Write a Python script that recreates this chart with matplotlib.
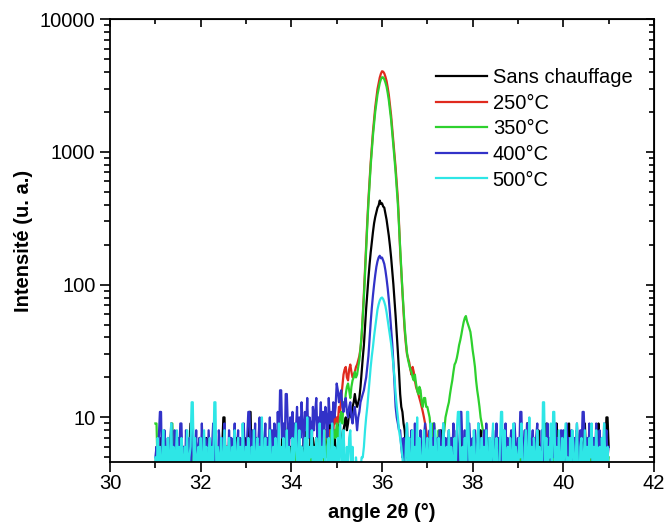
import numpy as np
import matplotlib
matplotlib.use('Agg')
import matplotlib.pyplot as plt
from matplotlib.ticker import MultipleLocator, LogLocator, FuncFormatter, NullFormatter

plt.rcParams['font.family'] = ['Liberation Sans', 'DejaVu Sans']

# ------------------------------------------------------------------
# Data, one point every 0.025 deg from 31.0 to 41.0
# (each line of 20 values = half a degree)
x_start = 31.0
x_step = 0.025

labels = ['Sans chauffage', '250°C', '350°C', '400°C', '500°C']
colors = ['#000000', '#e02a1e', '#2ed12e', '#3232c8', '#2ee6e6']

y_ref = [4, 6, 6, 3, 5, 7, 4, 4, 5, 3, 6, 6, 4, 5, 8, 4, 3, 6, 5, 5,
         4, 7, 3, 5, 6, 4, 2, 5, 7, 4, 6, 9, 9, 4, 5, 3, 6, 4, 5, 7,
         3, 5, 6, 4, 4, 7, 5, 3, 6, 4, 5, 3, 7, 4, 6, 5, 3, 5, 4, 6,
         10, 10, 4, 6, 3, 5, 7, 4, 5, 6, 3, 4, 7, 5, 3, 6, 4, 4, 5, 7,
         3, 6, 5, 11, 11, 4, 5, 3, 6, 7, 4, 5, 3, 6, 4, 5, 7, 3, 5, 6,
         4, 6, 3, 7, 5, 4, 8, 5, 3, 6, 4, 5, 7, 4, 3, 6, 5, 8, 4, 6,
         5, 3, 7, 4, 6, 5, 8, 4, 3, 6, 5, 7, 4, 9, 5, 6, 4, 8, 5, 7,
         6, 4, 7, 5, 8, 6, 4, 9, 5, 7, 6, 8, 5, 7, 9, 6, 8, 5, 7, 6,
         6, 5, 9, 8, 7, 6, 8, 9, 10, 8, 9, 11, 11, 10, 12, 13, 15, 13, 12, 13,
         14, 17, 22, 28, 35, 48, 66, 86, 112, 142, 175, 210, 249, 290, 323, 350, 380, 395, 430, 405,
         410, 388, 380, 342, 309, 270, 233, 196, 161, 128, 101, 77, 58, 43, 31, 22, 15, 12, 11, 9,
         8, 6, 5, 7, 4, 6, 3, 5, 6, 4, 5, 7, 4, 3, 6, 5, 4, 6, 5, 3,
         5, 4, 6, 3, 5, 7, 4, 6, 5, 3, 4, 6, 8, 5, 3, 6, 4, 5, 7, 4,
         3, 6, 5, 4, 7, 5, 3, 6, 4, 5, 8, 4, 6, 3, 5, 4, 7, 5, 3, 6,
         4, 5, 7, 3, 6, 4, 5, 8, 4, 6, 3, 5, 4, 7, 5, 3, 6, 4, 5, 6,
         3, 5, 7, 4, 6, 3, 5, 4, 8, 5, 3, 6, 4, 5, 7, 3, 6, 5, 4, 6,
         5, 3, 6, 8, 4, 5, 7, 3, 9, 9, 4, 6, 5, 3, 7, 4, 6, 5, 8, 4,
         6, 3, 5, 7, 4, 9, 5, 3, 6, 4, 8, 5, 3, 6, 9, 4, 5, 7, 3, 6,
         4, 6, 8, 3, 5, 9, 4, 6, 3, 7, 5, 4, 8, 6, 3, 5, 7, 4, 6, 9,
         5, 3, 6, 4, 8, 5, 3, 7, 4, 6, 5, 9, 3, 6, 4, 7, 5, 3, 10, 10,
         6]

y_250 = [3, 4, 5, 3, 4, 6, 3, 5, 4, 3, 5, 4, 6, 3, 4, 5, 3, 4, 6, 4,
         5, 3, 4, 5, 3, 6, 4, 3, 5, 4, 3, 5, 6, 4, 3, 4, 5, 3, 4, 5,
         4, 3, 5, 4, 6, 3, 4, 5, 3, 4, 6, 4, 3, 5, 4, 3, 5, 6, 4, 3,
         5, 4, 3, 6, 4, 5, 3, 4, 5, 3, 6, 4, 3, 5, 4, 6, 3, 4, 5, 3,
         4, 5, 3, 4, 6, 3, 5, 4, 3, 5, 4, 6, 3, 4, 5, 3, 4, 6, 5, 3,
         4, 3, 5, 6, 4, 3, 5, 4, 6, 3, 4, 5, 3, 4, 6, 5, 3, 4, 5, 4,
         3, 5, 4, 6, 3, 4, 5, 3, 6, 4, 5, 3, 4, 6, 5, 4, 3, 5, 6, 4,
         5, 6, 4, 7, 5, 6, 8, 5, 7, 6, 8, 7, 9, 6, 8, 7, 9, 8, 10, 9,
         10, 9, 12, 11, 14, 17, 21, 23, 24, 20, 19, 23, 25, 22, 20, 21, 22, 24, 25, 27,
         29, 33, 40, 58, 86, 132, 205, 300, 437, 605, 833, 1090, 1420, 1760, 2170, 2540, 2970, 3300, 3630, 3880,
         4050, 4020, 3900, 3680, 3420, 3060, 2690, 2270, 1890, 1500, 1190, 950, 760, 580, 440, 290, 180, 125, 85, 62,
         45, 36, 30, 28, 26, 23, 21, 24, 22, 19, 17, 16, 15, 14, 13, 12, 11, 10, 9, 8,
         7, 6, 5, 7, 4, 6, 5, 3, 4, 5, 3, 6, 4, 3, 5, 4, 3, 5, 4, 3,
         4, 5, 3, 4, 6, 3, 5, 4, 3, 5, 4, 6, 3, 4, 5, 3, 4, 5, 3, 4,
         5, 3, 4, 6, 3, 4, 5, 3, 4, 5, 6, 3, 4, 5, 3, 4, 6, 4, 3, 5,
         4, 3, 5, 4, 6, 3, 4, 5, 3, 4, 5, 3, 6, 4, 3, 5, 4, 3, 5, 4,
         3, 5, 4, 6, 3, 4, 5, 3, 4, 6, 5, 3, 4, 5, 3, 4, 6, 3, 5, 4,
         5, 3, 4, 5, 3, 6, 4, 3, 5, 4, 3, 5, 4, 6, 3, 4, 5, 3, 4, 5,
         3, 4, 6, 5, 3, 4, 5, 3, 4, 6, 3, 5, 4, 3, 5, 4, 6, 3, 4, 5,
         4, 3, 5, 4, 3, 6, 4, 5, 3, 4, 5, 3, 4, 6, 3, 5, 4, 3, 5, 4,
         4]

y_350 = [9, 9, 4, 6, 3, 5, 4, 3, 6, 5, 4, 3, 5, 4, 9, 9, 5, 3, 4, 6,
         4, 3, 5, 4, 6, 3, 4, 5, 3, 4, 6, 4, 3, 5, 4, 3, 5, 6, 4, 3,
         5, 4, 3, 6, 4, 5, 3, 4, 5, 3, 6, 4, 3, 5, 4, 6, 3, 4, 5, 3,
         4, 5, 3, 4, 6, 3, 5, 4, 3, 5, 4, 6, 3, 4, 5, 3, 4, 6, 5, 3,
         4, 3, 5, 6, 4, 3, 5, 4, 6, 3, 4, 5, 3, 4, 6, 5, 3, 4, 5, 4,
         3, 5, 4, 6, 3, 4, 5, 3, 6, 4, 5, 3, 4, 6, 9, 8, 3, 5, 6, 4,
         5, 3, 4, 6, 3, 5, 4, 3, 5, 6, 4, 3, 5, 4, 6, 3, 4, 5, 3, 4,
         4, 6, 5, 3, 5, 4, 6, 5, 7, 4, 6, 5, 7, 6, 5, 8, 6, 7, 8, 7,
         9, 7, 8, 10, 11, 9, 13, 12, 15, 17, 18, 16, 14, 17, 19, 20, 22, 20, 21, 24,
         27, 33, 42, 57, 80, 122, 190, 280, 410, 570, 790, 1030, 1330, 1640, 2000, 2330, 2700, 3000, 3300, 3520,
         3650, 3640, 3520, 3330, 3100, 2780, 2450, 2080, 1750, 1400, 1120, 890, 700, 530, 400, 280, 190, 130, 90, 65,
         48, 38, 31, 27, 25, 23, 22, 20, 19, 21, 18, 16, 15, 17, 16, 13, 12, 14, 14, 12,
         12, 11, 10, 8, 7, 9, 9, 7, 6, 5, 8, 6, 5, 6, 7, 8, 10, 11, 12, 13,
         15, 17, 19, 22, 25, 26, 28, 31, 35, 38, 42, 47, 52, 56, 58, 53, 50, 47, 44, 38,
         32, 28, 24, 19, 16, 14, 12, 10, 9, 8, 7, 5, 4, 6, 3, 5, 4, 3, 5, 4,
         3, 5, 4, 6, 3, 4, 5, 3, 4, 6, 4, 3, 5, 4, 3, 6, 4, 5, 3, 4,
         5, 3, 4, 6, 4, 3, 5, 4, 6, 3, 4, 5, 3, 4, 6, 5, 3, 4, 5, 3,
         4, 6, 3, 5, 4, 3, 5, 4, 6, 3, 4, 5, 3, 4, 6, 3, 5, 4, 3, 5,
         4, 3, 6, 4, 5, 3, 4, 5, 3, 6, 4, 3, 5, 4, 6, 3, 4, 5, 3, 4,
         5, 3, 4, 6, 3, 4, 5, 3, 4, 6, 5, 3, 4, 5, 3, 4, 6, 3, 5, 4,
         5]

y_400 = [5, 6, 4, 7, 11, 11, 3, 6, 8, 5, 4, 7, 3, 6, 9, 5, 4, 8, 6, 3,
         7, 5, 9, 9, 4, 6, 3, 8, 5, 4, 7, 3, 6, 9, 5, 4, 8, 3, 6, 7,
         4, 9, 5, 3, 7, 6, 4, 8, 5, 3, 6, 9, 4, 7, 5, 3, 8, 6, 4, 7,
         5, 9, 3, 6, 4, 8, 5, 7, 3, 6, 9, 4, 5, 8, 3, 7, 6, 4, 9, 5,
         3, 7, 11, 11, 6, 4, 8, 5, 9, 3, 6, 7, 10, 4, 8, 5, 6, 9, 4, 7,
         6, 10, 5, 8, 4, 9, 7, 5, 11, 6, 16, 16, 7, 9, 5, 15, 15, 8, 6, 10,
         7, 11, 5, 9, 8, 12, 6, 10, 7, 13, 9, 6, 11, 8, 14, 7, 10, 9, 6, 12,
         8, 11, 14, 7, 10, 9, 13, 6, 11, 8, 12, 10, 7, 14, 9, 11, 8, 13, 10, 12,
         18, 16, 13, 15, 16, 12, 11, 13, 14, 11, 10, 12, 13, 10, 9, 11, 12, 10, 8, 10,
         11, 13, 14, 15, 16, 18, 20, 24, 29, 39, 52, 67, 83, 100, 118, 136, 150, 160, 165, 158,
         160, 152, 143, 128, 111, 94, 77, 61, 47, 36, 26, 18, 12, 10, 9, 8, 8, 6, 5, 7,
         4, 6, 9, 5, 7, 3, 8, 6, 4, 9, 5, 7, 3, 6, 8, 5, 4, 7, 9, 5,
         6, 4, 8, 5, 7, 3, 9, 6, 4, 7, 5, 8, 3, 6, 9, 4, 7, 5, 6, 8,
         4, 7, 5, 9, 3, 6, 8, 5, 4, 11, 11, 6, 4, 8, 5, 7, 3, 9, 6, 4,
         7, 5, 8, 3, 6, 9, 4, 7, 5, 6, 8, 4, 9, 5, 3, 7, 6, 4, 8, 5,
         6, 9, 4, 7, 5, 3, 8, 6, 4, 9, 5, 7, 3, 6, 8, 4, 5, 9, 6, 4,
         7, 5, 11, 11, 4, 6, 8, 3, 9, 5, 7, 4, 6, 8, 5, 3, 7, 9, 4, 6,
         5, 8, 4, 7, 6, 3, 9, 5, 7, 4, 6, 8, 5, 9, 3, 7, 6, 4, 8, 5,
         8, 4, 6, 9, 5, 7, 3, 8, 6, 4, 7, 5, 9, 6, 4, 8, 5, 11, 11, 6,
         4, 7, 5, 9, 6, 8, 4, 7, 5, 9, 6, 3, 8, 5, 7, 4, 9, 6, 8, 5,
         6]

y_500 = [5, 3, 7, 4, 6, 2, 5, 8, 3, 6, 4, 7, 3, 5, 9, 4, 6, 3, 5, 8,
         4, 6, 2, 7, 5, 3, 6, 4, 8, 3, 5, 6, 13, 13, 4, 7, 3, 5, 6, 4,
         7, 3, 5, 8, 4, 6, 2, 5, 7, 3, 6, 4, 13, 13, 3, 6, 5, 4, 7, 3,
         5, 8, 4, 6, 3, 7, 5, 2, 6, 4, 8, 3, 5, 7, 4, 6, 3, 9, 5, 4,
         6, 3, 7, 5, 2, 6, 4, 8, 3, 5, 7, 4, 6, 3, 10, 5, 4, 7, 3, 6,
         4, 8, 5, 3, 6, 4, 7, 2, 5, 9, 4, 6, 3, 7, 5, 4, 8, 3, 6, 5,
         3, 7, 4, 6, 9, 5, 3, 8, 4, 6, 2, 5, 7, 4, 10, 3, 6, 5, 8, 4,
         6, 3, 7, 5, 4, 9, 3, 6, 5, 8, 4, 2, 6, 7, 3, 5, 9, 4, 6, 3,
         5, 7, 4, 9, 6, 3, 8, 5, 2, 6, 4, 7, 8, 4, 6, 3, 3, 5, 4, 3,
         3, 4, 5, 5, 6, 8, 10, 12, 15, 19, 24, 29, 34, 41, 48, 56, 65, 71, 76, 79,
         80, 78, 74, 69, 62, 54, 47, 41, 36, 30, 25, 20, 15, 12, 10, 8, 7, 6, 5, 4,
         3, 6, 9, 4, 7, 2, 5, 8, 3, 6, 4, 10, 3, 7, 5, 2, 6, 8, 4, 5,
         7, 3, 5, 9, 4, 6, 2, 8, 5, 3, 7, 4, 6, 2, 9, 5, 3, 6, 4, 8,
         3, 6, 5, 2, 7, 4, 8, 11, 11, 5, 3, 6, 4, 7, 2, 11, 11, 5, 3, 6,
         4, 8, 5, 2, 6, 9, 3, 5, 7, 4, 6, 2, 8, 5, 3, 7, 4, 6, 9, 3,
         5, 7, 4, 2, 6, 11, 11, 3, 8, 5, 4, 6, 2, 7, 5, 3, 9, 4, 6, 5,
         3, 7, 5, 9, 4, 2, 6, 8, 3, 5, 10, 4, 6, 2, 7, 5, 3, 8, 4, 6,
         5, 3, 13, 13, 4, 7, 2, 6, 5, 9, 3, 11, 11, 4, 6, 2, 8, 5, 3, 7,
         4, 6, 9, 3, 5, 2, 7, 4, 8, 6, 3, 5, 9, 4, 2, 6, 7, 3, 5, 8,
         4, 6, 2, 7, 5, 9, 3, 6, 4, 8, 5, 2, 6, 3, 7, 4, 9, 5, 3, 6,
         4]

series = [y_ref, y_250, y_350, y_400, y_500]
# ------------------------------------------------------------------



# ------------------------------------------------------------------
# Plot
fig = plt.figure(figsize=(6.67, 5.24), dpi=100)
ax = fig.add_axes([0.165, 0.118, 0.8155, 0.8455])

for y, lab, col in zip(series, labels, colors):
  x = x_start + x_step * np.arange(len(y))
  ax.plot(x, y, color=col, lw=1.6, label=lab)

ax.set_yscale('log')
ax.set_xlim(30, 42)
ax.set_ylim(4.6, 10000)

ax.xaxis.set_major_locator(MultipleLocator(2))
ax.xaxis.set_minor_locator(MultipleLocator(1))
ax.yaxis.set_major_locator(LogLocator(base=10))
ax.yaxis.set_minor_locator(LogLocator(base=10, subs=np.arange(2, 10)))
ax.yaxis.set_major_formatter(FuncFormatter(lambda v, p: '%d' % v))
ax.yaxis.set_minor_formatter(NullFormatter())

ax.tick_params(which='both', direction='out', labelsize=14.5, width=1.2)
ax.tick_params(which='major', length=7)
ax.tick_params(which='minor', length=4)
ax.tick_params(axis='x', which='major', pad=1.5)
for s in ax.spines.values():
  s.set_linewidth(1.3)

# Top and right ticks point inward
top = ax.secondary_xaxis('top')
top.xaxis.set_major_locator(MultipleLocator(2))
top.xaxis.set_minor_locator(MultipleLocator(1))
top.tick_params(which='both', direction='in', labeltop=False, width=1.2)
top.tick_params(which='major', length=6)
top.tick_params(which='minor', length=3.5)
right = ax.secondary_yaxis('right')
right.yaxis.set_major_locator(LogLocator(base=10))
right.yaxis.set_minor_locator(LogLocator(base=10, subs=np.arange(2, 10)))
right.tick_params(which='both', direction='in', labelright=False, width=1.2)
right.tick_params(which='major', length=6)
right.tick_params(which='minor', length=3.5)

ax.set_xlabel('angle 2θ (°)', fontsize=14.5, fontweight='bold', labelpad=7)
ax.set_ylabel('Intensité (u. a.)', fontsize=14.5, fontweight='bold', labelpad=5)

ax.legend(loc='upper left', bbox_to_anchor=(0.585, 0.908), frameon=False,
          fontsize=14.5, handlelength=2.5, handletextpad=0.3,
          labelspacing=0.33, borderaxespad=0)

plt.savefig('out.png', dpi=100)
# ------------------------------------------------------------------
